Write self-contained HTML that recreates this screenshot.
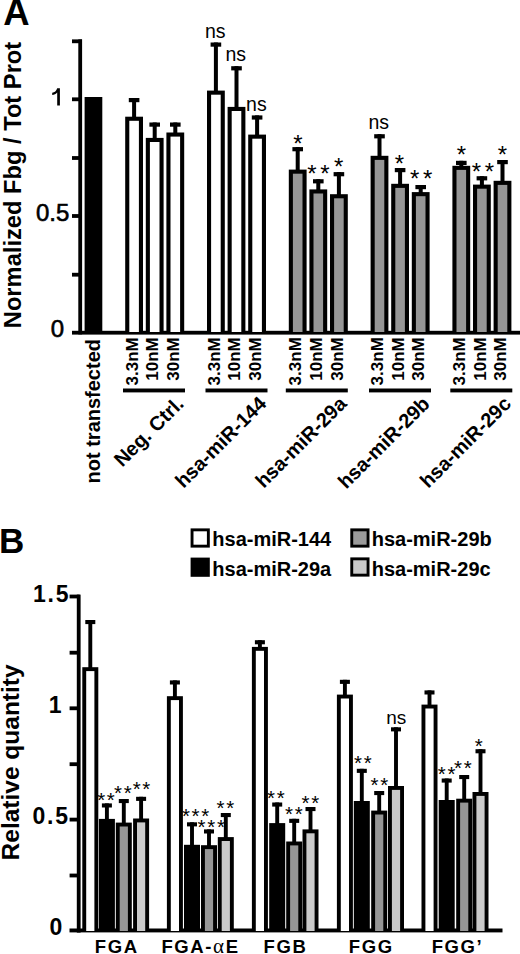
<!DOCTYPE html>
<html><head><meta charset="utf-8"><style>
html,body{margin:0;padding:0;background:#fff;}
svg{display:block;}
text{font-family:"Liberation Sans", sans-serif;fill:#000;}
</style></head><body>
<svg width="520" height="954" viewBox="0 0 520 954">
<rect x="0" y="0" width="520" height="954" fill="#fff"/>
<text x="3.20" y="24.60" font-size="36.5" font-weight="bold" text-anchor="start">A</text>
<text x="21.00" y="185.00" font-size="23.7" font-weight="bold" text-anchor="middle" transform="rotate(-90 21.00 185.00)">Normalized Fbg / Tot Prot</text>
<rect x="78.30" y="39.40" width="3.80" height="295.00" fill="#000"/>
<rect x="72.00" y="39.40" width="10.00" height="3.80" fill="#000"/>
<rect x="72.00" y="97.40" width="10.00" height="3.80" fill="#000"/>
<rect x="72.00" y="156.10" width="10.00" height="3.80" fill="#000"/>
<rect x="72.00" y="214.10" width="10.00" height="3.80" fill="#000"/>
<rect x="72.00" y="272.80" width="10.00" height="3.80" fill="#000"/>
<rect x="72.00" y="330.80" width="448.00" height="3.80" fill="#000"/>
<path d="M57.2 88.2 L59.9 88.2 L59.9 105.5 L57.2 105.5 L57.2 92.6 C56 94.2 54.2 94.8 52.2 95 L52.2 92.8 C54.6 92.4 56.4 91 57.2 88.2 Z" fill="#000"/>
<text x="69.40" y="221.40" font-size="24" font-weight="normal" text-anchor="end" stroke="#000" stroke-width="0.6">0.5</text>
<text x="64.10" y="337.30" font-size="24" font-weight="normal" text-anchor="end" stroke="#000" stroke-width="0.6">0</text>
<rect x="84.60" y="97.00" width="17.70" height="235.00" fill="#000"/>
<rect x="125.20" y="116.70" width="17.80" height="215.30" fill="#000"/>
<rect x="129.30" y="120.80" width="9.60" height="211.20" fill="#fff"/>
<rect x="128.80" y="98.00" width="10.60" height="4.20" fill="#000"/>
<rect x="132.10" y="98.00" width="4.00" height="19.70" fill="#000"/>
<rect x="145.80" y="137.90" width="17.80" height="194.10" fill="#000"/>
<rect x="149.90" y="142.00" width="9.60" height="190.00" fill="#fff"/>
<rect x="149.40" y="122.50" width="10.60" height="4.20" fill="#000"/>
<rect x="152.70" y="122.50" width="4.00" height="16.40" fill="#000"/>
<rect x="166.40" y="132.50" width="17.80" height="199.50" fill="#000"/>
<rect x="170.50" y="136.60" width="9.60" height="195.40" fill="#fff"/>
<rect x="170.00" y="122.50" width="10.60" height="4.20" fill="#000"/>
<rect x="173.30" y="122.50" width="4.00" height="11.00" fill="#000"/>
<rect x="207.00" y="90.60" width="17.80" height="241.40" fill="#000"/>
<rect x="211.10" y="94.70" width="9.60" height="237.30" fill="#fff"/>
<rect x="210.60" y="42.50" width="10.60" height="4.20" fill="#000"/>
<rect x="213.90" y="42.50" width="4.00" height="49.10" fill="#000"/>
<text x="215.20" y="37.70" font-size="19.5" font-weight="normal" text-anchor="middle">ns</text>
<rect x="227.60" y="106.90" width="17.80" height="225.10" fill="#000"/>
<rect x="231.70" y="111.00" width="9.60" height="221.00" fill="#fff"/>
<rect x="231.20" y="66.20" width="10.60" height="4.20" fill="#000"/>
<rect x="234.50" y="66.20" width="4.00" height="41.70" fill="#000"/>
<text x="235.80" y="61.40" font-size="19.5" font-weight="normal" text-anchor="middle">ns</text>
<rect x="248.20" y="134.60" width="17.80" height="197.40" fill="#000"/>
<rect x="252.30" y="138.70" width="9.60" height="193.30" fill="#fff"/>
<rect x="251.80" y="115.40" width="10.60" height="4.20" fill="#000"/>
<rect x="255.10" y="115.40" width="4.00" height="20.20" fill="#000"/>
<text x="256.40" y="110.60" font-size="19.5" font-weight="normal" text-anchor="middle">ns</text>
<rect x="288.80" y="169.60" width="17.80" height="162.40" fill="#000"/>
<rect x="292.90" y="173.70" width="9.60" height="158.30" fill="#969696"/>
<rect x="292.40" y="147.10" width="10.60" height="4.20" fill="#000"/>
<rect x="295.70" y="147.10" width="4.00" height="23.50" fill="#000"/>
<rect x="309.40" y="189.40" width="17.80" height="142.60" fill="#000"/>
<rect x="313.50" y="193.50" width="9.60" height="138.50" fill="#969696"/>
<rect x="313.00" y="179.20" width="10.60" height="4.20" fill="#000"/>
<rect x="316.30" y="179.20" width="4.00" height="11.20" fill="#000"/>
<rect x="330.00" y="194.20" width="17.80" height="137.80" fill="#000"/>
<rect x="334.10" y="198.30" width="9.60" height="133.70" fill="#969696"/>
<rect x="333.60" y="172.10" width="10.60" height="4.20" fill="#000"/>
<rect x="336.90" y="172.10" width="4.00" height="23.10" fill="#000"/>
<rect x="370.60" y="155.80" width="17.80" height="176.20" fill="#000"/>
<rect x="374.70" y="159.90" width="9.60" height="172.10" fill="#969696"/>
<rect x="374.20" y="134.20" width="10.60" height="4.20" fill="#000"/>
<rect x="377.50" y="134.20" width="4.00" height="22.60" fill="#000"/>
<text x="378.80" y="129.40" font-size="19.5" font-weight="normal" text-anchor="middle">ns</text>
<rect x="391.20" y="183.80" width="17.80" height="148.20" fill="#000"/>
<rect x="395.30" y="187.90" width="9.60" height="144.10" fill="#969696"/>
<rect x="394.80" y="168.00" width="10.60" height="4.20" fill="#000"/>
<rect x="398.10" y="168.00" width="4.00" height="16.80" fill="#000"/>
<rect x="411.80" y="192.10" width="17.80" height="139.90" fill="#000"/>
<rect x="415.90" y="196.20" width="9.60" height="135.80" fill="#969696"/>
<rect x="415.40" y="185.00" width="10.60" height="4.20" fill="#000"/>
<rect x="418.70" y="185.00" width="4.00" height="8.10" fill="#000"/>
<rect x="452.40" y="165.80" width="17.80" height="166.20" fill="#000"/>
<rect x="456.50" y="169.90" width="9.60" height="162.10" fill="#969696"/>
<rect x="456.00" y="160.80" width="10.60" height="4.20" fill="#000"/>
<rect x="459.30" y="160.80" width="4.00" height="6.00" fill="#000"/>
<rect x="473.00" y="184.60" width="17.80" height="147.40" fill="#000"/>
<rect x="477.10" y="188.70" width="9.60" height="143.30" fill="#969696"/>
<rect x="476.60" y="176.20" width="10.60" height="4.20" fill="#000"/>
<rect x="479.90" y="176.20" width="4.00" height="9.40" fill="#000"/>
<rect x="493.60" y="180.80" width="17.80" height="151.20" fill="#000"/>
<rect x="497.70" y="184.90" width="9.60" height="147.10" fill="#969696"/>
<rect x="497.20" y="160.00" width="10.60" height="4.20" fill="#000"/>
<rect x="500.50" y="160.00" width="4.00" height="21.80" fill="#000"/>
<text x="297.90" y="151.52" font-size="24" font-weight="normal" text-anchor="middle">*</text>
<text x="311.80" y="181.82" font-size="24" font-weight="normal" text-anchor="middle">*</text>
<text x="324.80" y="181.82" font-size="24" font-weight="normal" text-anchor="middle">*</text>
<text x="338.70" y="175.12" font-size="24" font-weight="normal" text-anchor="middle">*</text>
<text x="399.50" y="171.72" font-size="24" font-weight="normal" text-anchor="middle">*</text>
<text x="414.70" y="186.72" font-size="24" font-weight="normal" text-anchor="middle">*</text>
<text x="427.70" y="186.72" font-size="24" font-weight="normal" text-anchor="middle">*</text>
<text x="461.40" y="162.92" font-size="24" font-weight="normal" text-anchor="middle">*</text>
<text x="476.40" y="179.52" font-size="24" font-weight="normal" text-anchor="middle">*</text>
<text x="489.40" y="179.52" font-size="24" font-weight="normal" text-anchor="middle">*</text>
<text x="502.50" y="162.72" font-size="24" font-weight="normal" text-anchor="middle">*</text>
<text x="101.15" y="806.95" font-size="20.5" font-weight="normal" text-anchor="middle">*</text>
<text x="110.85" y="806.95" font-size="20.5" font-weight="normal" text-anchor="middle">*</text>
<text x="117.95" y="799.95" font-size="20.5" font-weight="normal" text-anchor="middle">*</text>
<text x="127.65" y="799.95" font-size="20.5" font-weight="normal" text-anchor="middle">*</text>
<text x="136.65" y="795.55" font-size="20.5" font-weight="normal" text-anchor="middle">*</text>
<text x="146.35" y="795.55" font-size="20.5" font-weight="normal" text-anchor="middle">*</text>
<text x="185.90" y="822.85" font-size="20.5" font-weight="normal" text-anchor="middle">*</text>
<text x="195.60" y="822.85" font-size="20.5" font-weight="normal" text-anchor="middle">*</text>
<text x="205.30" y="822.85" font-size="20.5" font-weight="normal" text-anchor="middle">*</text>
<text x="201.50" y="834.05" font-size="20.5" font-weight="normal" text-anchor="middle">*</text>
<text x="211.20" y="834.05" font-size="20.5" font-weight="normal" text-anchor="middle">*</text>
<text x="220.90" y="834.05" font-size="20.5" font-weight="normal" text-anchor="middle">*</text>
<text x="220.55" y="814.85" font-size="20.5" font-weight="normal" text-anchor="middle">*</text>
<text x="230.25" y="814.85" font-size="20.5" font-weight="normal" text-anchor="middle">*</text>
<text x="270.95" y="805.45" font-size="20.5" font-weight="normal" text-anchor="middle">*</text>
<text x="280.65" y="805.45" font-size="20.5" font-weight="normal" text-anchor="middle">*</text>
<text x="288.95" y="821.45" font-size="20.5" font-weight="normal" text-anchor="middle">*</text>
<text x="298.65" y="821.45" font-size="20.5" font-weight="normal" text-anchor="middle">*</text>
<text x="305.55" y="810.25" font-size="20.5" font-weight="normal" text-anchor="middle">*</text>
<text x="315.25" y="810.25" font-size="20.5" font-weight="normal" text-anchor="middle">*</text>
<text x="357.95" y="770.25" font-size="20.5" font-weight="normal" text-anchor="middle">*</text>
<text x="367.65" y="770.25" font-size="20.5" font-weight="normal" text-anchor="middle">*</text>
<text x="374.45" y="792.35" font-size="20.5" font-weight="normal" text-anchor="middle">*</text>
<text x="384.15" y="792.35" font-size="20.5" font-weight="normal" text-anchor="middle">*</text>
<text x="441.85" y="781.45" font-size="20.5" font-weight="normal" text-anchor="middle">*</text>
<text x="451.55" y="781.45" font-size="20.5" font-weight="normal" text-anchor="middle">*</text>
<text x="458.05" y="774.65" font-size="20.5" font-weight="normal" text-anchor="middle">*</text>
<text x="467.75" y="774.65" font-size="20.5" font-weight="normal" text-anchor="middle">*</text>
<text x="478.80" y="752.95" font-size="20.5" font-weight="normal" text-anchor="middle">*</text>
<text x="100.20" y="339.00" font-size="20" font-weight="bold" text-anchor="end" transform="rotate(-90 100.20 339.00)">not transfected</text>
<text x="137.90" y="337.20" font-size="17" font-weight="bold" text-anchor="end" transform="rotate(-90 137.90 337.20)">3.3nM</text>
<text x="158.50" y="337.20" font-size="17" font-weight="bold" text-anchor="end" transform="rotate(-90 158.50 337.20)">10nM</text>
<text x="179.10" y="337.20" font-size="17" font-weight="bold" text-anchor="end" transform="rotate(-90 179.10 337.20)">30nM</text>
<rect x="123.00" y="388.50" width="62.00" height="3.90" fill="#000"/>
<text x="185.00" y="405.00" font-size="20" font-weight="bold" text-anchor="end" transform="rotate(-45 185.00 405.00)">Neg. Ctrl.</text>
<text x="219.70" y="337.20" font-size="17" font-weight="bold" text-anchor="end" transform="rotate(-90 219.70 337.20)">3.3nM</text>
<text x="240.30" y="337.20" font-size="17" font-weight="bold" text-anchor="end" transform="rotate(-90 240.30 337.20)">10nM</text>
<text x="260.90" y="337.20" font-size="17" font-weight="bold" text-anchor="end" transform="rotate(-90 260.90 337.20)">30nM</text>
<rect x="205.50" y="388.50" width="62.00" height="3.90" fill="#000"/>
<text x="267.50" y="405.00" font-size="20" font-weight="bold" text-anchor="end" transform="rotate(-45 267.50 405.00)">hsa-miR-144</text>
<text x="301.50" y="337.20" font-size="17" font-weight="bold" text-anchor="end" transform="rotate(-90 301.50 337.20)">3.3nM</text>
<text x="322.10" y="337.20" font-size="17" font-weight="bold" text-anchor="end" transform="rotate(-90 322.10 337.20)">10nM</text>
<text x="342.70" y="337.20" font-size="17" font-weight="bold" text-anchor="end" transform="rotate(-90 342.70 337.20)">30nM</text>
<rect x="285.80" y="388.50" width="62.00" height="3.90" fill="#000"/>
<text x="347.80" y="405.00" font-size="20" font-weight="bold" text-anchor="end" transform="rotate(-45 347.80 405.00)">hsa-miR-29a</text>
<text x="383.30" y="337.20" font-size="17" font-weight="bold" text-anchor="end" transform="rotate(-90 383.30 337.20)">3.3nM</text>
<text x="403.90" y="337.20" font-size="17" font-weight="bold" text-anchor="end" transform="rotate(-90 403.90 337.20)">10nM</text>
<text x="424.50" y="337.20" font-size="17" font-weight="bold" text-anchor="end" transform="rotate(-90 424.50 337.20)">30nM</text>
<rect x="369.00" y="388.50" width="62.00" height="3.90" fill="#000"/>
<text x="431.00" y="405.00" font-size="20" font-weight="bold" text-anchor="end" transform="rotate(-45 431.00 405.00)">hsa-miR-29b</text>
<text x="465.10" y="337.20" font-size="17" font-weight="bold" text-anchor="end" transform="rotate(-90 465.10 337.20)">3.3nM</text>
<text x="485.70" y="337.20" font-size="17" font-weight="bold" text-anchor="end" transform="rotate(-90 485.70 337.20)">10nM</text>
<text x="506.30" y="337.20" font-size="17" font-weight="bold" text-anchor="end" transform="rotate(-90 506.30 337.20)">30nM</text>
<rect x="450.30" y="388.50" width="62.00" height="3.90" fill="#000"/>
<text x="512.30" y="405.00" font-size="20" font-weight="bold" text-anchor="end" transform="rotate(-45 512.30 405.00)">hsa-miR-29c</text>
<text x="-1.00" y="552.80" font-size="35" font-weight="bold" text-anchor="start">B</text>
<rect x="190.60" y="528.40" width="19.20" height="19.20" fill="#000"/>
<rect x="193.50" y="531.30" width="13.40" height="13.40" fill="#fff"/>
<rect x="190.60" y="557.60" width="19.20" height="19.20" fill="#000"/>
<rect x="350.30" y="528.40" width="19.20" height="19.20" fill="#000"/>
<rect x="353.20" y="531.30" width="13.40" height="13.40" fill="#9a9a9a"/>
<rect x="350.30" y="557.40" width="19.20" height="19.20" fill="#000"/>
<rect x="353.20" y="560.30" width="13.40" height="13.40" fill="#cacaca"/>
<text x="212.30" y="545.80" font-size="20" font-weight="bold" text-anchor="start">hsa-miR-144</text>
<text x="212.30" y="575.80" font-size="20" font-weight="bold" text-anchor="start">hsa-miR-29a</text>
<text x="371.70" y="545.80" font-size="20" font-weight="bold" text-anchor="start">hsa-miR-29b</text>
<text x="371.70" y="575.80" font-size="20" font-weight="bold" text-anchor="start">hsa-miR-29c</text>
<text x="19.00" y="762.40" font-size="24.5" font-weight="bold" text-anchor="middle" transform="rotate(-90 19.00 762.40)">Relative quantity</text>
<rect x="76.80" y="594.60" width="3.80" height="338.00" fill="#000"/>
<rect x="69.60" y="594.60" width="10.00" height="3.80" fill="#000"/>
<rect x="69.60" y="650.80" width="10.00" height="3.80" fill="#000"/>
<rect x="69.60" y="706.40" width="10.00" height="3.80" fill="#000"/>
<rect x="69.60" y="762.30" width="10.00" height="3.80" fill="#000"/>
<rect x="69.60" y="817.70" width="10.00" height="3.80" fill="#000"/>
<rect x="69.60" y="873.60" width="10.00" height="3.80" fill="#000"/>
<rect x="69.50" y="928.50" width="433.00" height="3.90" fill="#000"/>
<text x="70.20" y="601.70" font-size="23" font-weight="bold" text-anchor="end" letter-spacing="1.7">1.5</text>
<text x="63.20" y="713.00" font-size="23" font-weight="bold" text-anchor="end" letter-spacing="1.7">1</text>
<text x="69.70" y="824.30" font-size="23" font-weight="bold" text-anchor="end" letter-spacing="1.7">0.5</text>
<text x="64.00" y="935.00" font-size="23" font-weight="bold" text-anchor="end" letter-spacing="1.7">0</text>
<rect x="82.30" y="667.20" width="16.00" height="263.80" fill="#000"/>
<rect x="86.20" y="671.10" width="8.20" height="259.90" fill="#fff"/>
<rect x="85.30" y="620.00" width="10.00" height="4.10" fill="#000"/>
<rect x="88.35" y="620.00" width="3.90" height="48.20" fill="#000"/>
<rect x="98.90" y="818.90" width="16.00" height="112.10" fill="#000"/>
<rect x="101.90" y="803.40" width="10.00" height="4.10" fill="#000"/>
<rect x="104.95" y="803.40" width="3.90" height="16.50" fill="#000"/>
<rect x="115.80" y="822.60" width="16.00" height="108.40" fill="#000"/>
<rect x="119.70" y="826.50" width="8.20" height="104.50" fill="#969696"/>
<rect x="118.80" y="799.00" width="10.00" height="4.10" fill="#000"/>
<rect x="121.85" y="799.00" width="3.90" height="24.60" fill="#000"/>
<rect x="133.10" y="818.50" width="16.00" height="112.50" fill="#000"/>
<rect x="137.00" y="822.40" width="8.20" height="108.60" fill="#cacaca"/>
<rect x="136.10" y="796.80" width="10.00" height="4.10" fill="#000"/>
<rect x="139.15" y="796.80" width="3.90" height="22.70" fill="#000"/>
<text x="116.80" y="952.50" font-size="18.5" font-weight="bold" text-anchor="middle" letter-spacing="1.6">FGA</text>
<rect x="166.90" y="696.20" width="16.00" height="234.80" fill="#000"/>
<rect x="170.80" y="700.10" width="8.20" height="230.90" fill="#fff"/>
<rect x="169.90" y="680.40" width="10.00" height="4.10" fill="#000"/>
<rect x="172.95" y="680.40" width="3.90" height="16.80" fill="#000"/>
<rect x="184.00" y="844.80" width="16.00" height="86.20" fill="#000"/>
<rect x="187.00" y="822.30" width="10.00" height="4.10" fill="#000"/>
<rect x="190.05" y="822.30" width="3.90" height="23.50" fill="#000"/>
<rect x="201.00" y="845.20" width="16.00" height="85.80" fill="#000"/>
<rect x="204.90" y="849.10" width="8.20" height="81.90" fill="#969696"/>
<rect x="204.00" y="829.40" width="10.00" height="4.10" fill="#000"/>
<rect x="207.05" y="829.40" width="3.90" height="16.80" fill="#000"/>
<rect x="217.80" y="837.10" width="16.00" height="93.90" fill="#000"/>
<rect x="221.70" y="841.00" width="8.20" height="90.00" fill="#cacaca"/>
<rect x="220.80" y="813.00" width="10.00" height="4.10" fill="#000"/>
<rect x="223.85" y="813.00" width="3.90" height="25.10" fill="#000"/>
<text x="200.50" y="952.50" font-size="18.5" font-weight="bold" text-anchor="middle" letter-spacing="1.6">FGA-<tspan font-weight="normal" font-family="Liberation Serif" font-size="21">α</tspan>E</text>
<rect x="251.90" y="646.90" width="16.00" height="284.10" fill="#000"/>
<rect x="255.80" y="650.80" width="8.20" height="280.20" fill="#fff"/>
<rect x="254.90" y="640.20" width="10.00" height="4.10" fill="#000"/>
<rect x="257.95" y="640.20" width="3.90" height="7.70" fill="#000"/>
<rect x="269.20" y="823.10" width="16.00" height="107.90" fill="#000"/>
<rect x="272.20" y="802.50" width="10.00" height="4.10" fill="#000"/>
<rect x="275.25" y="802.50" width="3.90" height="21.60" fill="#000"/>
<rect x="286.20" y="841.50" width="16.00" height="89.50" fill="#000"/>
<rect x="290.10" y="845.40" width="8.20" height="85.60" fill="#969696"/>
<rect x="289.20" y="818.80" width="10.00" height="4.10" fill="#000"/>
<rect x="292.25" y="818.80" width="3.90" height="23.70" fill="#000"/>
<rect x="302.50" y="829.40" width="16.00" height="101.60" fill="#000"/>
<rect x="306.40" y="833.30" width="8.20" height="97.70" fill="#cacaca"/>
<rect x="305.50" y="807.00" width="10.00" height="4.10" fill="#000"/>
<rect x="308.55" y="807.00" width="3.90" height="23.40" fill="#000"/>
<text x="285.55" y="952.50" font-size="18.5" font-weight="bold" text-anchor="middle" letter-spacing="1.6">FGB</text>
<rect x="336.90" y="694.60" width="16.00" height="236.40" fill="#000"/>
<rect x="340.80" y="698.50" width="8.20" height="232.50" fill="#fff"/>
<rect x="339.90" y="679.80" width="10.00" height="4.10" fill="#000"/>
<rect x="342.95" y="679.80" width="3.90" height="15.80" fill="#000"/>
<rect x="353.80" y="801.00" width="16.00" height="130.00" fill="#000"/>
<rect x="356.80" y="768.80" width="10.00" height="4.10" fill="#000"/>
<rect x="359.85" y="768.80" width="3.90" height="33.20" fill="#000"/>
<rect x="371.20" y="810.60" width="16.00" height="120.40" fill="#000"/>
<rect x="375.10" y="814.50" width="8.20" height="116.50" fill="#969696"/>
<rect x="374.20" y="791.00" width="10.00" height="4.10" fill="#000"/>
<rect x="377.25" y="791.00" width="3.90" height="20.60" fill="#000"/>
<rect x="388.00" y="786.00" width="16.00" height="145.00" fill="#000"/>
<rect x="391.90" y="789.90" width="8.20" height="141.10" fill="#cacaca"/>
<rect x="391.00" y="727.30" width="10.00" height="4.10" fill="#000"/>
<rect x="394.05" y="727.30" width="3.90" height="59.70" fill="#000"/>
<text x="396.30" y="724.00" font-size="19" font-weight="normal" text-anchor="middle">ns</text>
<text x="371.25" y="952.50" font-size="18.5" font-weight="bold" text-anchor="middle" letter-spacing="1.6">FGG</text>
<rect x="421.50" y="704.60" width="16.00" height="226.40" fill="#000"/>
<rect x="425.40" y="708.50" width="8.20" height="222.50" fill="#fff"/>
<rect x="424.50" y="690.40" width="10.00" height="4.10" fill="#000"/>
<rect x="427.55" y="690.40" width="3.90" height="15.20" fill="#000"/>
<rect x="438.70" y="800.00" width="16.00" height="131.00" fill="#000"/>
<rect x="441.70" y="778.50" width="10.00" height="4.10" fill="#000"/>
<rect x="444.75" y="778.50" width="3.90" height="22.50" fill="#000"/>
<rect x="456.20" y="798.70" width="16.00" height="132.30" fill="#000"/>
<rect x="460.10" y="802.60" width="8.20" height="128.40" fill="#969696"/>
<rect x="459.20" y="775.00" width="10.00" height="4.10" fill="#000"/>
<rect x="462.25" y="775.00" width="3.90" height="24.70" fill="#000"/>
<rect x="472.50" y="792.00" width="16.00" height="139.00" fill="#000"/>
<rect x="476.40" y="795.90" width="8.20" height="135.10" fill="#cacaca"/>
<rect x="475.50" y="749.20" width="10.00" height="4.10" fill="#000"/>
<rect x="478.55" y="749.20" width="3.90" height="43.80" fill="#000"/>
<text x="457.50" y="952.50" font-size="18.5" font-weight="bold" text-anchor="middle" letter-spacing="1.6">FGG’</text>
</svg>
</body></html>
